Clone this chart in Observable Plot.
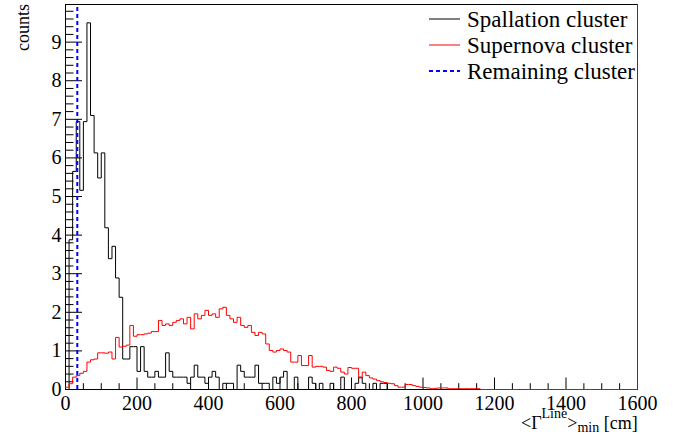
<!DOCTYPE html>
<html><head><meta charset="utf-8">
<script src="https://cdn.jsdelivr.net/npm/d3@7"></script>
<script src="https://cdn.jsdelivr.net/npm/@observablehq/plot@0.6"></script>
<style>body{margin:0;background:#fff} svg{font-family:"Liberation Serif",serif}</style>
</head><body><div id="chart"></div>
<script>
const binWidth = 10;
const spallation = [
 0, 3.88, 5.65, 6.94, 5.16, 6.94, 9.5, 7.1, 6.13, 5.48, 6.13, 4.19, 3.39, 3.71, 2.89, 2.39, 0.79, 0.79, 1.11, 1.11,
 0.47, 1.11, 0.47, 0.32, 0.32, 0.47, 0.32, 0.32, 0.95, 0.47, 0.32, 0.32, 0.32, 0.32, 0.16, 0.32, 0.63, 0.32, 0.32, 0.16,
 0.32, 0.47, 0.32, 0, 0.16, 0.16, 0.16, 0, 0.63, 0.47, 0.32, 0.32, 0.32, 0.63, 0.16, 0.16, 0.16, 0, 0.32, 0.16,
 0.32, 0.47, 0, 0, 0.32, 0, 0, 0, 0.32, 0.16, 0, 0.16, 0, 0, 0.16, 0, 0, 0.32, 0, 0,
 0, 0.16, 0.32, 0.16, 0, 0, 0.16, 0, 0.16, 0.16, 0, 0, 0, 0, 0, 0, 0, 0, 0, 0,
 0, 0, 0, 0, 0, 0, 0, 0, 0, 0, 0, 0, 0, 0, 0, 0, 0, 0, 0, 0,
 0, 0, 0, 0, 0, 0, 0, 0, 0, 0, 0, 0, 0, 0, 0, 0, 0, 0, 0, 0,
 0, 0, 0, 0, 0, 0, 0, 0, 0, 0, 0, 0, 0, 0, 0, 0, 0, 0, 0, 0
];
const supernova = [
 0.06, 0.15, 0.32, 0.36, 0.42, 0.47, 0.71, 0.77, 0.79, 0.95, 0.95, 0.94, 0.97, 0.79, 1.35, 1.10, 1.12, 1.15, 1.66, 1.38,
 1.42, 1.42, 1.44, 1.46, 1.50, 1.50, 1.79, 1.66, 1.70, 1.66, 1.74, 1.79, 1.83, 1.70, 1.87, 1.57, 1.96, 1.83, 1.92, 2.05,
 1.92, 1.96, 1.87, 2.09, 2.13, 1.92, 1.83, 1.74, 1.87, 1.66, 1.61, 1.66, 1.48, 1.40, 1.48, 1.44, 1.18, 1.01, 0.97, 1.01,
 1.05, 1.01, 0.97, 0.71, 0.71, 0.88, 0.62, 0.62, 0.88, 0.58, 0.60, 0.60, 0.58, 0.49, 0.47, 0.58, 0.55, 0.45, 0.40, 0.57,
 0.55, 0.55, 0.30, 0.45, 0.36, 0.30, 0.27, 0.23, 0.20, 0.18, 0.16, 0.15, 0.10, 0.06, 0.06, 0.13, 0.13, 0.10, 0.08, 0.06,
 0.05, 0.04, 0.02, 0.03, 0.04, 0.04, 0.04, 0.02, 0.02, 0.02, 0.02, 0.02, 0.02, 0.02, 0.02, 0.02, 0, 0, 0, 0,
 0, 0, 0, 0, 0, 0, 0, 0, 0, 0, 0, 0, 0, 0, 0, 0, 0, 0, 0, 0,
 0, 0, 0, 0, 0, 0, 0, 0, 0, 0, 0, 0, 0, 0, 0, 0, 0, 0, 0, 0
];
const remainingCut = [33];
const xTicks = [0, 200, 400, 600, 800, 1000, 1200, 1400, 1600];
const yTicks = [0, 1, 2, 3, 4, 5, 6, 7, 8, 9];
const seriesNames = ["Spallation cluster", "Supernova cluster", "Remaining cluster"];

function steps(values) {
  const pts = values.map((v, i) => ({x: i * binWidth, y: v}));
  pts.push({x: values.length * binWidth, y: values[values.length - 1]});
  return pts;
}

const W = 680, H = 435, ml = 65, mr = 43, mt = 4, mb = 46;
const xMax = 1600, yMax = 9.975;
const uY = yMax / (H - mt - mb);
const uX = xMax / (W - ml - mr);
const xMinor = d3.range(0, 1601, 50);
const yMinor = d3.range(0, 50).map(i => i * 0.2);
const isInt = d => Math.abs(d - Math.round(d)) < 1e-6;

const chart = Plot.plot({
  width: W, height: H,
  marginLeft: ml, marginRight: mr, marginTop: mt, marginBottom: mb,
  x: {domain: [0, xMax], axis: null},
  y: {domain: [0, yMax], axis: null},
  style: {fontFamily: "Liberation Serif, serif", background: "white", overflow: "visible"},
  marks: [
    Plot.frame({stroke: "black", strokeWidth: 1}),
    Plot.ruleX(xMinor, {x: d => d, y1: 0, y2: d => (d % 200 === 0 ? 11.5 : 5.8) * uY, stroke: "black", strokeWidth: 1}),
    Plot.ruleY(yMinor, {y: d => d, x1: 0, x2: d => (isInt(d) ? 17 : 8.5) * uX, stroke: "black", strokeWidth: 1}),
    Plot.line(steps(spallation), {x: "x", y: "y", curve: "step-after", stroke: "black", strokeWidth: 1}),
    Plot.line(steps(supernova), {x: "x", y: "y", curve: "step-after", stroke: "#ff0000", strokeWidth: 1}),
    Plot.ruleX(remainingCut, {x: d => d, y1: 0, y2: yMax, stroke: "#0000ff", strokeWidth: 2, strokeDasharray: "4,3"}),
    Plot.ruleX([xMax], {x: d => d, y1: 0, y2: yMax, stroke: "#cc0000", strokeWidth: 1}),
    Plot.text(xTicks, {x: d => d, y: 0, dy: 14, text: d => String(d), fontSize: 20, fill: "black"}),
    Plot.text(yTicks, {x: 0, y: d => d, dx: -4, text: d => String(d), textAnchor: "end", fontSize: 20, fill: "black"})
  ]
});

const svg = d3.select(chart);
// y title
svg.append("text").attr("transform", "translate(29,4) rotate(-90)")
  .attr("text-anchor", "end").attr("font-size", 18).attr("fill", "black").text("counts");
// x title, built piece by piece
const xt = svg.append("g").attr("fill", "black");
const parts = [
  {t: "<Γ", size: 18, y: 429},
  {t: "Line", size: 14, y: 418},
  {t: ">", size: 18, y: 429},
  {t: "min", size: 14, y: 432},
  {t: " [cm]", size: 18, y: 429}
];
parts.forEach(p => {
  p.el = xt.append("text").attr("x", 521).attr("y", p.y)
    .attr("font-size", p.size).attr("text-anchor", "start").style("white-space", "pre").text(p.t);
});
// legend
const legendStyles = [
  {stroke: "black", width: 1, dash: null},
  {stroke: "#ff0000", width: 1, dash: null},
  {stroke: "#0000ff", width: 2, dash: "4,3"}
];
seriesNames.forEach((name, i) => {
  const cy = 19 + i * 26;
  const st = legendStyles[i];
  const l = svg.append("line").attr("x1", 429).attr("x2", 460).attr("y1", cy).attr("y2", cy)
    .attr("stroke", st.stroke).attr("stroke-width", st.width);
  if (st.dash) l.attr("stroke-dasharray", st.dash);
  svg.append("text").attr("x", 467).attr("y", cy + 8).attr("text-anchor", "start")
    .attr("font-size", 23).attr("fill", "black").text(name);
});

document.getElementById("chart").appendChild(chart);
let cx = 521;
parts.forEach(p => {
  p.el.attr("x", cx);
  cx += p.el.node().getComputedTextLength();
});
</script>
</body></html>
